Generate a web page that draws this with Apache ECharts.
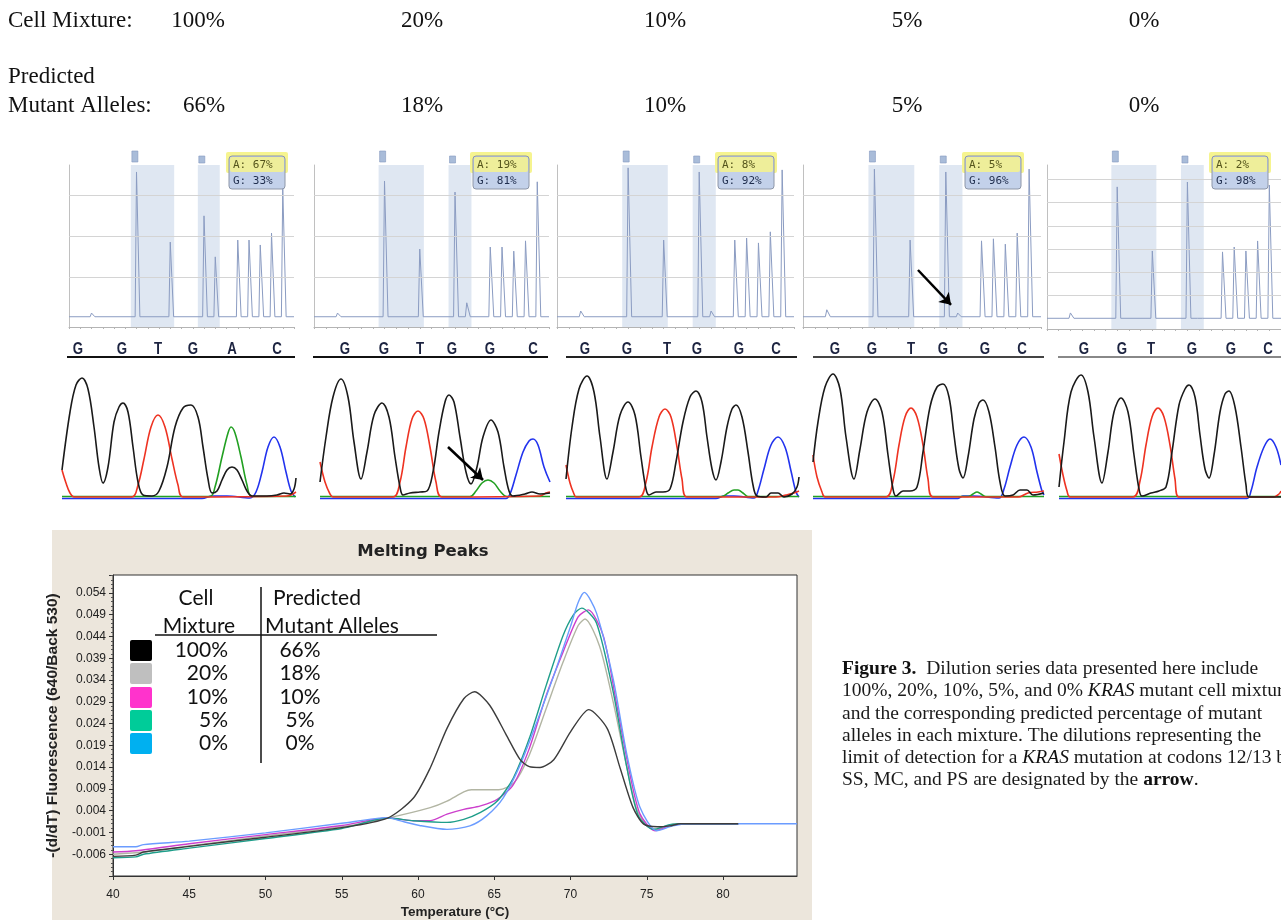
<!DOCTYPE html>
<html><head><meta charset="utf-8">
<script src="https://cdn.jsdelivr.net/npm/echarts@6/dist/echarts.min.js"></script>
<style>html,body{margin:0;padding:0;background:#fff}#c{width:1281px;height:920px}</style>
</head><body><div id="c"></div><script>
// ---------------- DATA ----------------
const cellMixture = ['100%','20%','10%','5%','0%'];
const predictedMutant = ['66%','18%','10%','5%','0%'];

// pyrosequencing results (box labels)
const pyroA = ['67%','19%','8%','5%','2%'];
const pyroG = ['33%','81%','92%','96%','98%'];

// pyrogram peaks: [dispensation index, peak height in grid units]
const pyroPeaks1 = [[1,0.12],[5,3.56],[8,1.85],[11,2.49],[12,1.49],[14,1.90],[15,1.90],[16,1.78],[17,2.07],[18,3.17]];
const pyroPeaks2 = [[1,0.12],[5,3.34],[8,1.68],[11,3.07],[12,0.37],[14,1.73],[15,1.73],[16,1.63],[17,1.88],[18,3.32]];
const pyroPeaks3 = [[1,0.17],[5,3.66],[8,1.90],[11,3.56],[12,0.17],[14,1.90],[15,1.95],[16,1.83],[17,2.10],[18,3.61]];
const pyroPeaks4 = [[1,0.20],[5,3.63],[8,1.90],[11,3.56],[12,0.12],[14,1.88],[15,1.93],[16,1.80],[17,2.07],[18,3.63]];
const pyroPeaks5 = [[1,0.26],[5,5.67],[8,2.92],[11,5.88],[12,0.05],[14,2.88],[15,3.09],[16,2.92],[17,3.35],[18,5.75]];
const pyroShades = [[4.5,8.35],[10.45,12.4]];
const pyroGridA = [1,2,3];
const pyroGridB = [1,2,3,4,5,6];
const pyroArrow4 = [[8.66,1.17],[11.44,0.32]];

// base calls under pyrograms
const bases1 = ['G','G','T','G','A','C'];
const bases2 = ['G','G','T','G','G','C'];
const bases3 = ['G','G','T','G','G','C'];
const bases4 = ['G','G','T','G','G','C'];
const bases5 = ['G','G','T','G','G','C'];

// Sanger chromatograms: [scan position, signal]
const chr1Black = [[0,27],[8,85],[14,112],[20,119],[26,108],[32,70],[37,30],[41,14],[46,30],[52,75],[57,90],[61,94],[66,85],[71,50],[76,15],[81,2],[90,1],[97,6],[105,30],[113,70],[121,89],[129,92],[136,80],[141,50],[146,18],[150,4],[155,6],[160,17],[165,27],[170,30],[175,27],[180,17],[185,6],[190,1],[205,1],[215,2],[222,4],[228,3],[232,8],[234,19]];
const chr1Red = [[0,27],[4,14],[8,4],[12,0],[70,0],[76,12],[82,38],[89,70],[96,82],[103,70],[110,38],[116,12],[121,0],[225,1],[234,5]];
const chr1Green = [[0,0.5],[148,0.5],[153,10],[160,40],[166,64],[169,70],[173,64],[179,40],[185,12],[190,0.5],[234,0.5]];
const chr1Blue = [[0,-1.5],[140,-1.5],[150,1],[165,1],[188,-1],[194,5],[200,25],[206,50],[212,60],[218,50],[224,25],[229,6],[233,0]];

const chr2Black = [[0,15],[6,60],[13,100],[21,118],[28,100],[34,55],[41,18],[47,45],[54,82],[62,94],[69,80],[75,40],[80,10],[83,2],[90,4],[100,5],[107,6],[113,25],[119,65],[125,95],[129,102],[134,95],[140,60],[146,25],[151,13],[157,30],[163,60],[171,77],[178,65],[184,30],[189,6],[193,1],[205,3],[212,5],[220,3],[230,4]];
const chr2Red = [[0,35],[5,15],[10,3],[13,0],[73,0],[80,15],[86,50],[92,78],[98,86],[104,78],[110,50],[116,15],[122,0],[220,1],[226,4],[230,5]];
const chr2Green = [[0,0.5],[150,0.5],[156,6],[162,14],[168,17],[174,14],[180,6],[187,0.5],[230,0.5]];
const chr2Blue = [[0,-1.5],[186,-1.5],[190,3],[196,22],[203,45],[209,56],[213,58],[218,52],[224,30],[230,15]];

const chr3Black = [[0,18],[6,70],[13,108],[21,121],[28,105],[34,60],[41,18],[47,45],[54,82],[62,95],[69,82],[75,40],[80,8],[83,2],[90,5],[97,5],[104,8],[110,35],[117,75],[124,100],[130,106],[136,95],[141,60],[146,28],[150,17],[155,35],[161,70],[166,88],[170,92],[176,80],[182,45],[187,12],[191,1],[200,0],[205,4],[212,4],[218,0],[226,3],[231,10],[233,20]];
const chr3Red = [[0,32],[4,14],[8,3],[10,0],[73,0],[80,15],[86,50],[93,80],[99,88],[105,80],[111,50],[116,18],[121,0],[210,0],[220,2],[228,4],[233,6]];
const chr3Green = [[0,0.5],[156,0.5],[162,4],[168,7],[172,7],[177,4],[182,0.5],[233,0.5]];
const chr3Blue = [[0,-1.5],[150,-1.5],[158,1],[168,1],[188,-1],[192,6],[198,28],[205,52],[212,60],[219,50],[225,26],[230,5],[233,0]];

const chr4Black = [[0,35],[5,75],[12,110],[20,123],[27,108],[33,60],[41,18],[47,48],[54,85],[62,98],[69,85],[75,42],[80,8],[83,1],[90,6],[97,6],[104,10],[110,45],[117,90],[124,110],[130,113],[136,100],[141,62],[146,28],[150,19],[155,40],[161,78],[166,94],[170,97],[176,85],[182,50],[187,15],[192,1],[200,2],[207,7],[214,7],[220,2],[231,4]];
const chr4Red = [[0,42],[4,20],[9,5],[12,0],[73,0],[80,16],[86,52],[92,80],[98,89],[104,80],[110,52],[115,18],[120,0],[205,0],[215,4],[225,5],[231,6]];
const chr4Green = [[0,0.5],[155,0.5],[160,3],[164,5],[168,3],[173,0.5],[231,0.5]];
const chr4Blue = [[0,-1.5],[145,-1.5],[150,1],[160,1],[186,-1],[191,8],[197,30],[204,52],[211,60],[218,50],[224,25],[229,6],[231,2]];

const chr5Black = [[0,10],[5,55],[12,105],[22,122],[29,105],[35,60],[43,14],[49,45],[55,85],[62,99],[69,85],[75,42],[80,8],[83,1],[92,4],[100,6],[107,10],[113,45],[120,92],[126,108],[130,112],[136,100],[141,62],[146,28],[150,19],[155,42],[161,85],[166,103],[170,106],[176,90],[182,50],[187,12],[190,0],[222,0]];
const chr5Red = [[0,43],[4,22],[8,6],[11,0],[74,0],[81,16],[87,52],[93,80],[99,89],[105,80],[111,52],[116,18],[120,0],[215,0],[220,3],[222,6]];
const chr5Green = [[0,0.5],[222,0.5]];
const chr5Blue = [[0,-1.5],[188,-1.5],[192,6],[198,30],[205,50],[211,58],[217,50],[222,32]];
const chromArrow2 = [[128,50],[163,17]];

// Melting peaks: [temperature °C, -(d/dT) fluorescence]
const melt100 = [[40,-0.0065],[41.5,-0.0062],[42,-0.0055],[45,-0.0042],[50,-0.0021],[55,0.0001],[58,0.0023],[59.7,0.0069],[60.8,0.0138],[61.9,0.0229],[63,0.0297],[63.7,0.0313],[64.7,0.0282],[65.8,0.0213],[66.7,0.0157],[67.3,0.0141],[68.0,0.0139],[68.9,0.0157],[70,0.0221],[71.2,0.0272],[72.4,0.0229],[73.25,0.0138],[74.1,0.0047],[74.8,0.0009],[75.7,0.0003],[76.5,0.0005],[77.2,0.001],[81,0.001]];
const melt20 = [[40,-0.006],[42,-0.0055],[45,-0.0041],[50,-0.0018],[55,0.0003],[58,0.0023],[60.8,0.0047],[61.9,0.0062],[63,0.0083],[63.5,0.0088],[65.3,0.0088],[66.3,0.0104],[67.3,0.0168],[68.4,0.0274],[69.5,0.038],[70.5,0.0465],[70.95,0.048],[71.9,0.0418],[72.8,0.0289],[73.7,0.0138],[74.3,0.0047],[75,0.0005],[75.65,-0.0003],[76.6,0.0008],[77.5,0.001],[81,0.001]];
const melt10 = [[40,-0.0055],[41.5,-0.0052],[45,-0.0036],[50,-0.0015],[55,0.0006],[58,0.0023],[59.7,0.0017],[60.8,0.0017],[61.9,0.0032],[63,0.0043],[64.1,0.0051],[65.2,0.0066],[66.25,0.01],[67.3,0.0183],[68.4,0.0304],[69.5,0.0403],[70.5,0.0485],[71.17,0.0501],[72.15,0.0441],[73,0.0289],[73.9,0.0123],[74.56,0.0032],[75.54,-0.0006],[76.5,0.0005],[77.5,0.001],[81,0.001]];
const melt5 = [[40,-0.0068],[41.5,-0.0066],[42,-0.006],[45,-0.0046],[50,-0.0024],[55,-0.0001],[58,0.0023],[59.7,0.0017],[61.9,0.0013],[63,0.002],[64.1,0.0036],[65.2,0.0062],[66.25,0.0115],[67.3,0.0206],[68.4,0.0327],[69.5,0.0441],[70.2,0.049],[70.73,0.0505],[71.7,0.0471],[72.8,0.0312],[73.7,0.0138],[74.45,0.0028],[75.43,-0.0003],[76.5,0.0008],[77.5,0.001],[81,0.001]];
const melt0 = [[40,-0.0043],[41.5,-0.0043],[42,-0.0038],[45,-0.003],[50,-0.0011],[55,0.0011],[58,0.0024],[58.8,0.0017],[60.1,0.0006],[61.9,-0.0003],[63.4,0.0005],[64.5,0.0028],[65.6,0.007],[66.7,0.0145],[67.8,0.0244],[68.9,0.035],[70,0.0463],[70.5,0.0518],[70.9,0.0541],[71.7,0.0494],[72.8,0.0342],[73.7,0.0168],[74.56,0.0047],[75.65,-0.0006],[76.7,0.0005],[77.7,0.001],[84.85,0.001]];

const legendCell = ['100%','20%','10%','5%','0%'];
const legendPred = ['66%','18%','10%','5%','0%'];
const caption = [
  '{b|Figure 3.}  Dilution series data presented here include',
  '100%, 20%, 10%, 5%, and 0% {i|KRAS} mutant cell mixtures',
  'and the corresponding predicted percentage of mutant',
  'alleles in each mixture. The dilutions representing the',
  'limit of detection for a {i|KRAS} mutation at codons 12/13 by',
  'SS, MC, and PS are designated by the {b|arrow}.'
];

// ---------------- LAYOUT / STYLE ----------------
const pyroLeft = [69, 314, 557, 803, 1047];
const pyroWidth = [225, 235, 237, 238, 234];
const chromLeft = [62, 320, 566, 813, 1059];
const chromWidth = [234, 230, 233, 231, 222];
const baseX = [[78,122,158,193,232,277],[345,384,420,452,490,533],[585,627,667,697,739,776],[835,872,911,943,985,1022],[1084,1122,1151,1192,1231,1268]];
const underline = [[67,295,'#111'],[313,548,'#111'],[566,797,'#222'],[813,1044,'#444'],[1058,1281,'#888']];
const labelBoxLeft = [229, 473, 718, 965, 1212];
const colX = [198, 422, 665, 907, 1144];
const meltColors = ['#3c3c3c','#b2b5a3','#cc3fcc','#1f9e8a','#6b9cff'];
const swatchColors = ['#000000','#bfbfbf','#ff33cc','#00cc99','#00b0f0'];
const chromColors = {black:'#1a1a1a', red:'#ee3322', green:'#22a022', blue:'#2233ee'};
const tickFont = '"Liberation Sans", Arial, sans-serif';

const pyroPeaks = [pyroPeaks1,pyroPeaks2,pyroPeaks3,pyroPeaks4,pyroPeaks5];
const basesAll = [bases1,bases2,bases3,bases4,bases5];
const chroms = [
  {blue:chr1Blue, green:chr1Green, red:chr1Red, black:chr1Black},
  {blue:chr2Blue, green:chr2Green, red:chr2Red, black:chr2Black},
  {blue:chr3Blue, green:chr3Green, red:chr3Red, black:chr3Black},
  {blue:chr4Blue, green:chr4Green, red:chr4Red, black:chr4Black},
  {blue:chr5Blue, green:chr5Green, red:chr5Red, black:chr5Black}
];
const meltData = [melt20, melt10, melt5, melt0, melt100];
const meltCol = [meltColors[1], meltColors[2], meltColors[3], meltColors[4], meltColors[0]];

// pyrogram trace from peaks (narrow spikes on a baseline)
function spikes(peaks){
  const b = 0.03, pts = [[-1,b]];
  peaks.forEach(([i,h]) => { pts.push([i-0.12,b],[i,h],[i+0.3,b]); });
  pts.push([19,b]);
  return pts;
}

const grids = [], xAxes = [], yAxes = [], series = [];
// melting grid
grids.push({left:113, top:575, width:684, height:302, show:true, backgroundColor:'#fff', borderColor:'#333', borderWidth:1});
xAxes.push({gridIndex:0, type:'value', min:40, max:84.85, interval:5,
  axisLine:{show:true, onZero:false, lineStyle:{color:'#333'}}, axisTick:{show:true, length:4, lineStyle:{color:'#333'}},
  axisLabel:{color:'#222', fontFamily:tickFont, fontSize:12, margin:13, showMaxLabel:false},
  splitLine:{show:false},
  name:'Temperature (°C)', nameLocation:'middle', nameGap:29,
  nameTextStyle:{color:'#222', fontFamily:tickFont, fontWeight:'bold', fontSize:13.5}});
yAxes.push({gridIndex:0, type:'value', min:-0.011, max:0.0581, interval:0.005,
  axisLine:{show:true, onZero:false, lineStyle:{color:'#333'}}, axisTick:{show:true, length:4, lineStyle:{color:'#333'}},
  minorTick:{show:true, splitNumber:5, length:2, lineStyle:{color:'#555'}},
  axisLabel:{color:'#222', fontFamily:tickFont, fontSize:12, margin:7, showMinLabel:false, showMaxLabel:false,
    formatter: v => v.toFixed(3)},
  splitLine:{show:false},
  name:'-(d/dT) Fluorescence (640/Back 530)', nameLocation:'middle', nameGap:43,
  nameTextStyle:{color:'#222', fontFamily:tickFont, fontWeight:'bold', fontSize:15.5}});
meltData.forEach((d,k) => series.push({type:'line', xAxisIndex:0, yAxisIndex:0, data:d, showSymbol:false, smooth:0.25,
  lineStyle:{color:meltCol[k], width:1.4}, silent:true, z:3+k}));

// pyrograms
for (let p=0;p<5;p++){
  const gi = grids.length;
  const isB = p===4;
  grids.push({left:pyroLeft[p], top:165, width:pyroWidth[p], height:isB?164:162});
  xAxes.push({gridIndex:gi, type:'value', min:-1, max:19, interval:1,
    axisLine:{show:true, onZero:false, lineStyle:{color:'#b4b4b4'}}, axisTick:{show:true, length:2, lineStyle:{color:'#b4b4b4'}},
    axisLabel:{show:false}, splitLine:{show:false}});
  yAxes.push({gridIndex:gi, type:'value', min:isB?-0.43:-0.22, max:isB?6.61:3.73,
    axisLine:{show:true, onZero:false, lineStyle:{color:'#c0c0c0'}}, axisTick:{show:false}, axisLabel:{show:false}, splitLine:{show:false}});
  series.push({type:'line', xAxisIndex:gi, yAxisIndex:gi, data:spikes(pyroPeaks[p]), showSymbol:false, silent:true,
    lineStyle:{color:'#8b9cc2', width:1},
    markArea:{silent:true, itemStyle:{color:'rgba(197,211,231,0.55)'}, data: pyroShades.map(r=>[{xAxis:r[0]},{xAxis:r[1]}])},
    markLine:{silent:true, symbol:'none', label:{show:false}, animation:false,
      lineStyle:{color:'#d4d4d4', width:1, type:'solid'}, data:(isB?pyroGridB:pyroGridA).map(v=>({yAxis:v}))}});
  if (p===3){
    series.push({type:'lines', coordinateSystem:'cartesian2d', xAxisIndex:gi, yAxisIndex:gi, silent:true,
      symbol:['none','arrow'], symbolSize:11, lineStyle:{color:'#000', width:2.5, opacity:1},
      data:[{coords:pyroArrow4}], z:10});
  }
}
// chromatograms
for (let p=0;p<5;p++){
  const gi = grids.length;
  grids.push({left:chromLeft[p], top:372, width:chromWidth[p], height:127});
  xAxes.push({gridIndex:gi, type:'value', min:0, max:chromWidth[p], show:false});
  yAxes.push({gridIndex:gi, type:'value', min:-2, max:125, show:false});
  ['blue','green','red','black'].forEach((c,k) => series.push({type:'line', xAxisIndex:gi, yAxisIndex:gi,
    data:chroms[p][c], showSymbol:false, smooth:0.35, silent:true, clip:false,
    lineStyle:{color:chromColors[c], width:1.6}, z:2+k}));
  if (p===1){
    series.push({type:'lines', coordinateSystem:'cartesian2d', xAxisIndex:gi, yAxisIndex:gi, silent:true,
      symbol:['none','arrow'], symbolSize:11, lineStyle:{color:'#000', width:2.5, opacity:1},
      data:[{coords:chromArrow2}], z:10});
  }
}

// ---------------- GRAPHIC ----------------
const serif = '"Liberation Serif", "Times New Roman", serif';
const g = [];
g.push({type:'rect', z:-1, shape:{x:52, y:530, width:760, height:390}, style:{fill:'#ece6dc'}, silent:true});
g.push({type:'text', x:8, y:21, style:{text:'Cell Mixture:', font:'23px '+serif, fill:'#111', verticalAlign:'middle'}});
g.push({type:'text', x:8, y:77, style:{text:'Predicted', font:'23px '+serif, fill:'#111', verticalAlign:'middle'}});
g.push({type:'text', x:8, y:106, style:{text:'Mutant Alleles:', font:'23px '+serif, fill:'#111', verticalAlign:'middle'}});
cellMixture.forEach((t,k)=> g.push({type:'text', x:colX[k], y:21, style:{text:t, font:'23px '+serif, fill:'#111', align:'center', verticalAlign:'middle'}}));
predictedMutant.forEach((t,k)=> g.push({type:'text', x:colX[k]+(k===0?6:0), y:106, style:{text:t, font:'23px '+serif, fill:'#111', align:'center', verticalAlign:'middle'}}));

// pyro label boxes
for (let p=0;p<5;p++){
  const L = labelBoxLeft[p];
  g.push({type:'rect', z:5, shape:{x:L-3, y:152, width:62, height:21, r:2}, style:{fill:'#f6f48f'}});
  g.push({type:'rect', z:6, shape:{x:L, y:156, width:56, height:33, r:3}, style:{fill:'#c3d1ea', stroke:'#8d96a8', lineWidth:1}});
  g.push({type:'rect', z:7, shape:{x:L+1, y:157, width:54, height:15, r:2}, style:{fill:'#eeee9a'}});
  g.push({type:'text', z:8, x:L+4, y:165, style:{text:'A: '+pyroA[p], font:'11px "DejaVu Sans Mono"', fill:'#55551c', verticalAlign:'middle'}});
  g.push({type:'text', z:8, x:L+4, y:181, style:{text:'G: '+pyroG[p], font:'11px "DejaVu Sans Mono"', fill:'#1f2d4d', verticalAlign:'middle'}});
  // bases + underline
  basesAll[p].forEach((b,k)=> g.push({type:'text', x:baseX[p][k], y:349, scaleX:0.78, style:{text:b, font:'bold 17px "Liberation Sans"', fill:'#1c2340', align:'center', verticalAlign:'middle'}}));
  g.push({type:'line', shape:{x1:underline[p][0], y1:357, x2:underline[p][1], y2:357}, style:{stroke:underline[p][2], lineWidth:2}});
}

// melting chart title + legend table
g.push({type:'text', x:423, y:552, style:{text:'Melting Peaks', font:'bold 16.5px "DejaVu Sans"', fill:'#222', align:'center', verticalAlign:'middle'}});
const lf = '21px Lato';
g.push({type:'text', z:10, x:196, y:598, style:{text:'Cell', font:lf, fill:'#111', align:'center', verticalAlign:'middle'}});
g.push({type:'text', z:10, x:317, y:598, style:{text:'Predicted', font:lf, fill:'#111', align:'center', verticalAlign:'middle'}});
g.push({type:'text', z:10, x:199, y:626, style:{text:'Mixture', font:lf, fill:'#111', align:'center', verticalAlign:'middle'}});
g.push({type:'text', z:10, x:332, y:626, style:{text:'Mutant Alleles', font:lf, fill:'#111', align:'center', verticalAlign:'middle'}});
g.push({type:'line', z:10, shape:{x1:155, y1:635, x2:437, y2:635}, style:{stroke:'#111', lineWidth:1.5}});
g.push({type:'line', z:10, shape:{x1:261, y1:587, x2:261, y2:763}, style:{stroke:'#111', lineWidth:1.5}});
const rowY = [650, 673, 697, 720, 743];
legendCell.forEach((t,k)=>{
  g.push({type:'rect', z:10, shape:{x:130, y:rowY[k]-10, width:22, height:21, r:2}, style:{fill:swatchColors[k]}});
  g.push({type:'text', z:10, x:228, y:rowY[k], style:{text:t, font:lf, fill:'#111', align:'right', verticalAlign:'middle'}});
  g.push({type:'text', z:10, x:300, y:rowY[k], style:{text:legendPred[k], font:lf, fill:'#111', align:'center', verticalAlign:'middle'}});
});

// caption
const capRich = {
  b:{fontFamily:'Liberation Serif', fontSize:19.5, fontWeight:'bold', fill:'#111', lineHeight:22},
  i:{fontFamily:'Liberation Serif', fontSize:19.5, fontStyle:'italic', fill:'#111', lineHeight:22}
};
caption.forEach((line,k)=> g.push({type:'text', x:842, y:669+k*22.2, style:{text:line, rich:capRich, font:'19.5px "Liberation Serif"', fill:'#1a1a1a', verticalAlign:'middle', lineHeight:22}}));

const chart = echarts.init(document.getElementById('c'), null, {renderer:'canvas', width:1281, height:920});
chart.setOption({animation:false, backgroundColor:'#fff', grid:grids, xAxis:xAxes, yAxis:yAxes, series:series, graphic:g});

// small tags at top of the shaded windows, positioned via the axes
const tags = [];
for (let p=0;p<5;p++){
  pyroShades.forEach((r,k)=>{
    const px = chart.convertToPixel({xAxisIndex:p+1}, r[0]);
    tags.push({type:'rect', z:4, shape:{x:px+1, y:k===0?151:156, width:6, height:k===0?11:7}, style:{fill:'#a9bcd9', stroke:'#8499c0', lineWidth:0.6}});
  });
}
chart.setOption({graphic: g.concat(tags)});
</script></body></html>
